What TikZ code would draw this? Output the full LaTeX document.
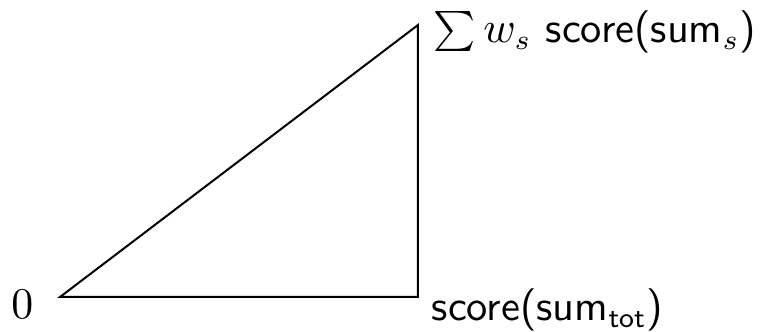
\documentclass[tikz,border=0pt]{standalone}
\begin{document}
\begin{tikzpicture}[x=0.25pt,y=0.25pt,
  edge/.style={line width=0.5pt},
  lbl/.style={font=\fontsize{10.6}{13}\selectfont}]
\useasboundingbox (0,0) rectangle (763,332);
\coordinate (O) at (60,35);
\coordinate (B) at (418,35);
\coordinate (T) at (418,307);
\draw[edge] (O) -- (B) -- (T) -- cycle;
\node[lbl,anchor=base east,inner sep=0pt] (l0) at (34,13) {$0$};
\node[lbl,anchor=base west,inner sep=0pt] (lt) at (433,289.5) {$\sum w_s$ \textsf{score(sum$_s$)}};
\node[lbl,anchor=base west,inner sep=0pt] (lb) at (431,11) {\textsf{score(sum$_{\mathsf{tot}}$)}};
\end{tikzpicture}
\end{document}
